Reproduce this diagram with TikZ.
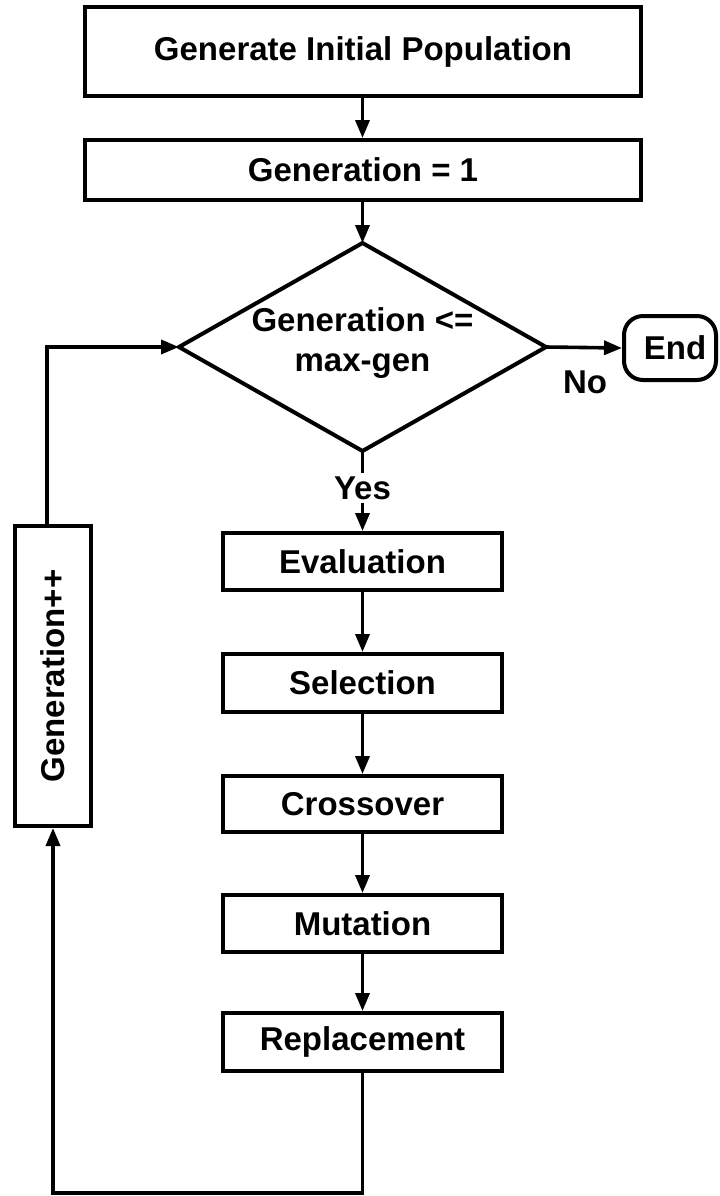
\documentclass[tikz,border=0pt]{standalone}
\usepackage{fontspec}
\usepackage{graphicx}
\setmainfont{Liberation Sans}
\usetikzlibrary{shapes.geometric,arrows.meta}
\begin{document}
\begin{tikzpicture}[x=0.5pt,y=-0.5pt,
  font=\bfseries\fontsize{16.5}{20}\selectfont,
  box/.style={draw,line width=2pt,rectangle,inner sep=0pt,align=center},
  conn/.style={line width=1.8pt,-{Triangle[length=9pt,width=7pt]}},
  plainline/.style={line width=1.8pt}]
\useasboundingbox (0,0) rectangle (719,1196);
\node[box,minimum width=278pt,minimum height=44.5pt] (init) at (363,51.5) {Generate Initial Population};
\node[box,minimum width=278pt,minimum height=30pt] (gen1) at (363,170) {Generation = 1};
\coordinate (diaN) at (362.5,243);
\coordinate (diaS) at (362.5,451);
\coordinate (diaW) at (179,347);
\coordinate (diaE) at (546,347);
\draw[line width=2pt,line join=miter] (diaN) -- (diaE) -- (diaS) -- (diaW) -- cycle;
\node[align=center] (dia) at (362.5,343) {Generation <=\\max-gen};
\node[draw,line width=2pt,rounded corners=9.5pt,minimum width=46pt,minimum height=32pt,inner sep=0pt] (end) at (670,348) {\hspace*{5pt}End};
\node (no) at (585,382) {No};
\node[inner sep=1.5pt] (yes) at (362.5,488) {Yes};
\node[box,minimum width=139.5pt,minimum height=28.5pt] (eval) at (362.5,561.5) {Evaluation};
\node[box,minimum width=139.5pt,minimum height=29pt] (sel) at (362.5,683) {Selection};
\node[box,minimum width=139.5pt,minimum height=28pt] (cross) at (362.5,804) {Crossover};
\node[box,minimum width=139.5pt,minimum height=28.5pt] (mut) at (362.5,923.5) {Mutation};
\node[box,minimum width=139.5pt,minimum height=29pt] (repl) at (362.5,1042) {Replacement};
\node[box,minimum width=38pt,minimum height=150pt] (genpp) at (53,676) {\rotatebox{90}{Generation++}};
\coordinate (bl) at (53,1193);
\draw[conn] (init.south -| diaN) -- (gen1.north -| diaN);
\draw[conn] (gen1.south -| diaN) -- (diaN);
\draw[conn] (diaE) -- (end.west);
\draw[plainline] (diaS) -- (yes.north);
\draw[conn] (yes.south) -- (eval.north);
\draw[conn] (eval.south) -- (sel.north);
\draw[conn] (sel.south) -- (cross.north);
\draw[conn] (cross.south) -- (mut.north);
\draw[conn] (mut.south) -- (repl.north);
\draw[conn] (repl.south) |- (bl) -- (genpp.south);
\draw[conn] ([xshift=-3pt]genpp.north) |- (diaW);
\end{tikzpicture}
\end{document}
